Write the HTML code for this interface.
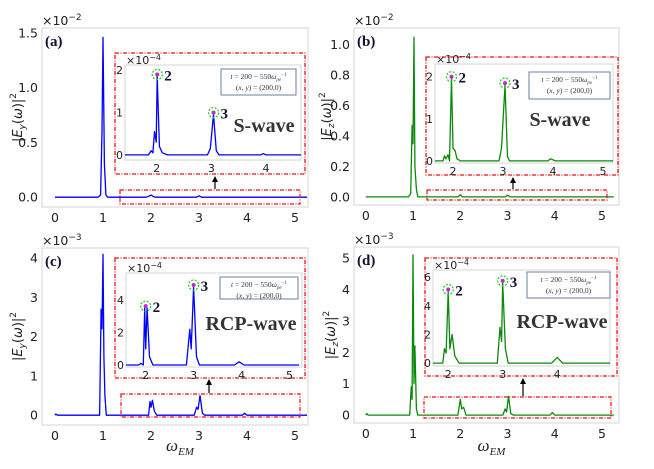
<!DOCTYPE html>
<html><head><meta charset="utf-8">
<style>
html,body{margin:0;padding:0;background:#fff;}
svg{display:block;}
text{font-family:"DejaVu Sans","Liberation Sans",sans-serif;}
.serif{font-family:"Liberation Serif","DejaVu Serif",serif;}
</style></head>
<body>
<svg id="fig" width="654" height="469" viewBox="0 0 654 469" xmlns="http://www.w3.org/2000/svg"></svg>
<script>
// ---- data ----
const mainAx = [0,0.9,0.95,0.98,1.0,1.03,1.06,1.1,1.9,1.95,2.0,2.05,2.1,2.95,3.0,3.05,5.25];
const mainAy = [0,0,0.02,0.6,1.46,0.3,0.02,0,0,0.008,0.02,0.005,0,0,0.012,0,0];
const insAx = [1.42,1.85,1.9,1.93,1.96,1.99,2.01,2.05,2.1,2.2,2.93,2.98,3.04,3.09,3.14,3.9,3.95,4.0,4.64];
const insAy = [0,0,0.1,0.05,0.55,0.3,1.85,0.2,0.05,0,0,0.15,0.95,0.1,0,0,0.03,0,0];

const mainBx = [0,0.9,0.95,0.98,1.0,1.02,1.04,1.07,1.1,1.95,2.0,2.05,2.95,3.0,3.05,5.25];
const mainBy = [0,0,0.02,0.47,0.35,1.05,0.2,0.05,0,0,0.015,0,0,0.012,0,0];
const insBx = [1.64,1.8,1.83,1.86,1.9,1.93,1.97,2.0,2.04,2.08,2.15,2.92,2.97,3.04,3.09,3.13,3.9,3.95,4.05,5.2];
const insBy = [0,0,0.12,0.05,0.15,0,1.95,0.3,0.25,0.05,0,0,0.3,1.8,0.1,0,0,0.05,0,0];

const mainCx = [0,0.02,0.05,0.93,0.96,0.98,1.0,1.02,1.04,1.07,1.95,1.98,2.0,2.03,2.07,2.12,2.9,2.95,2.98,3.02,3.07,3.12,3.9,3.95,4.0,5.25];
const mainCy = [0,0.03,0,0,2.7,2.2,4.1,1.5,0.5,0,0,0.35,0.2,0.38,0.1,0,0,0.2,0.15,0.5,0.05,0,0,0.05,0,0];
const insCx = [1.59,1.85,1.9,1.95,1.98,2.0,2.03,2.08,2.15,2.85,2.92,2.95,3.0,3.06,3.12,3.85,3.95,4.05,5.2];
const insCy = [0,0,0.1,0,3.5,1.0,3.5,0.5,0,0,2.2,1.0,4.8,0.5,0,0,0.2,0,0];

const mainDx = [0,0.02,0.05,0.93,0.96,0.98,1.0,1.02,1.04,1.07,1.1,1.95,2.0,2.03,2.07,2.12,2.9,2.95,2.98,3.02,3.07,3.12,3.9,3.95,4.0,5.25];
const mainDy = [0,0.05,0,0,0.9,0.5,5.1,1.0,2.2,0.2,0,0,0.5,0.2,0.25,0,0,0.2,0.1,0.6,0.05,0,0,0.08,0,0];
const insDx = [1.72,1.9,1.93,1.96,2.0,2.03,2.07,2.12,2.2,2.9,2.95,2.98,3.0,3.05,3.1,3.9,4.0,4.1,4.97];
const insDy = [0,0,1.0,0.7,5.0,1.0,2.0,0.5,0,0,2.5,1.5,5.6,1.0,0,0,0.4,0,0];

const mainXTicks = [0,1,2,3,4,5];
const ticksA = [0,0.5,1.0,1.5], ticksB=[0,0.2,0.4,0.6,0.8,1.0], ticksC=[0,1,2,3,4], ticksD=[0,1,2,3,4,5];
const insTicksA=[0,1,2], insTicksB=[0,1,2], insTicksC=[0,2,4], insTicksD=[0,2,4,6];
const insXA=[2,3,4], insXB=[2,3,4,5], insXC=[2,3,4,5], insXD=[2,3,4];
// peak markers: [x, y, label]
const peaksA=[[2.01,1.85,'2'],[3.04,0.95,'3']];
const peaksB=[[1.97,1.95,'2'],[3.04,1.8,'3']];
const peaksC=[[2.0,3.5,'2'],[3.0,4.8,'3']];
const peaksD=[[2.0,5.0,'2'],[3.0,5.6,'3']];

const NS='http://www.w3.org/2000/svg';
const svg=document.getElementById('fig');
function mk(tag,attrs,parent){const e=document.createElementNS(NS,tag);for(const k in attrs)e.setAttribute(k,attrs[k]);(parent||svg).appendChild(e);return e;}
function txt(s,attrs,parent){const e=mk('text',attrs,parent);e.textContent=s;return e;}

function axes(box,xd,yd){
  const sx=v=>box.x0+(v-xd[0])/(xd[1]-xd[0])*(box.x1-box.x0);
  const sy=v=>box.y1-(v-yd[0])/(yd[1]-yd[0])*(box.y1-box.y0);
  return {sx,sy};
}
function plotLine(g,xs,ys,sc,color){
  let d='';xs.forEach((x,i)=>{d+=(i?'L':'M')+sc.sx(x).toFixed(1)+','+sc.sy(ys[i]).toFixed(1);});
  const p=mk('path',{d:d,fill:'none',stroke:color,'stroke-width':1.3,'stroke-linejoin':'round'},g);
  
  
}

function panel(cfg){
  const g=mk('g',{});
  
  
  const b=cfg.box, sc=axes(b,cfg.xd,cfg.yd);
  const fr=mk('rect',{x:b.x0,y:b.y0,width:b.x1-b.x0,height:b.y1-b.y0,fill:'#fff',stroke:'#d6d6d6','stroke-width':1},g);
  
  const yl=txt('',{transform:`translate(${cfg.ylx},${(b.y0+b.y1)/2}) rotate(-90)`,'text-anchor':'middle','font-size':13,fill:'#222'},g);
  yl.innerHTML=`|<tspan font-style="italic">E</tspan><tspan font-size="9" dy="3" font-style="italic">${cfg.comp}</tspan><tspan dy="-3">(</tspan><tspan font-style="italic">ω</tspan>)|<tspan font-size="9" dy="-6">2</tspan>`;
  
  cfg.yt.forEach(v=>{const t=txt(v.toFixed(cfg.ydec),{x:b.x0-4,y:sc.sy(v)+4.5,'text-anchor':'end','font-size':12.5,fill:'#222'},g);
    });
  mainXTicks.forEach(v=>{const t=txt(String(v),{x:sc.sx(v),y:b.y1+15,'text-anchor':'middle','font-size':12.5,fill:'#222'},g);
    });
  const m=txt('',{x:b.x0,y:b.y0-3,'font-size':12.5,fill:'#222'},g);
  m.innerHTML=`×10<tspan font-size="9" dy="-5">−${cfg.exp}</tspan>`;
  
  if(cfg.xlabel){const xl=txt('',{x:(b.x0+b.x1)/2+5,y:451,'text-anchor':'middle','font-size':17,fill:'#222',class:'serif','font-style':'italic'},g);
    xl.innerHTML='ω<tspan font-size="11" dy="4">EM</tspan>';
    }
  plotLine(g,cfg.mx,cfg.my,sc,cfg.color);
  const pl=txt('('+cfg.id+')',{x:b.x0+3,y:b.y0+18,'font-size':15,'font-weight':'bold',fill:'#111133',class:'serif'},g);
  
  const zb=cfg.zoomBox;
  const r1=mk('rect',{x:zb[0],y:zb[1],width:zb[2]-zb[0],height:zb[3]-zb[1],fill:'none',stroke:'#ee1111','stroke-width':1.2,'stroke-dasharray':'4,1.5,1,1.5'},g);
  
  const ar=cfg.arrow;
  const al=mk('line',{x1:ar[0],y1:ar[1],x2:ar[0],y2:ar[2]+4,stroke:'#000','stroke-width':1.2},g);
  
  const ah=mk('path',{d:`M${ar[0]-3},${ar[2]+6}L${ar[0]},${ar[2]}L${ar[0]+3},${ar[2]+6}Z`,fill:'#000'},g);
  
  const ob=cfg.insOuter;
  const r2=mk('rect',{x:ob[0],y:ob[1],width:ob[2]-ob[0],height:ob[3]-ob[1],fill:'#fff',stroke:'#ee1111','stroke-width':1.3,'stroke-dasharray':'4,1.5,1,1.5'},g);
  
  const ib=cfg.ibox, is=axes(ib,cfg.ixd,cfg.iyd);
  const fr2=mk('rect',{x:ib.x0,y:ib.y0,width:ib.x1-ib.x0,height:ib.y1-ib.y0,fill:'#fff',stroke:'#d6d6d6','stroke-width':1},g);
  
  cfg.iyt.forEach(v=>{const t=txt(String(v),{x:ib.x0-2,y:is.sy(v)+4,'text-anchor':'end','font-size':11,fill:'#222'},g);
    });
  cfg.ixt.forEach(v=>{const t=txt(String(v),{x:is.sx(v),y:ib.y1+12,'text-anchor':'middle','font-size':11,fill:'#222'},g);
    });
  const m2=txt('',{x:ib.x0+1,y:ib.y0-1,'font-size':11,fill:'#222'},g);
  m2.innerHTML='×10<tspan font-size="8" dy="-4">−4</tspan>';
  
  plotLine(g,cfg.ix,cfg.iy,is,cfg.color);
  cfg.peaks.forEach(p=>{
    const cx=is.sx(p[0]),cy=is.sy(p[1]);
    const c=mk('circle',{cx:cx,cy:cy-2,r:5,fill:'none',stroke:'#22cc22','stroke-width':1.3,'stroke-dasharray':'2,1.5'},g);
    
    const d=mk('circle',{cx:cx,cy:cy-2,r:2,fill:'#cc22cc'},g);
    
    const t=txt(p[2],{x:cx+7,y:cy+4,'font-size':15,'font-weight':'bold',fill:'#111133',class:'serif'},g);
    
  });
  const lb=cfg.legend;
  const lr=mk('rect',{x:lb[0],y:lb[1],width:lb[2]-lb[0],height:lb[3]-lb[1],fill:'#fff',stroke:'#6a7fa8','stroke-width':1},g);
  
  const lx=(lb[0]+lb[2])/2;
  const l1=txt('',{x:lx,y:lb[1]+10,'text-anchor':'middle','font-size':7.5,fill:'#333',class:'serif'},g);
  l1.innerHTML='<tspan font-style="italic">t</tspan> = 200 − 550<tspan font-style="italic">ω</tspan><tspan font-size="5" dy="2" font-style="italic">pe</tspan><tspan font-size="5" dy="-5">−1</tspan>';
  
  const l2=txt('',{x:lx,y:lb[1]+21,'text-anchor':'middle','font-size':7.5,fill:'#333',class:'serif'},g);
  l2.innerHTML='(<tspan font-style="italic">x</tspan>, <tspan font-style="italic">y</tspan>) = (200,0)';
  
  const wt=txt(cfg.wave,{x:cfg.wavePos[0],y:cfg.wavePos[1],'text-anchor':'middle','font-size':20,'font-weight':'bold',fill:'#333',class:'serif'},g);
  
}

panel({id:'a',comp:'y',color:'#0000ff',box:{x0:42,x1:308,y0:28,y1:207},xd:[-0.27,5.27],yd:[-0.09,1.546],yt:ticksA,ydec:1,exp:2,ylx:22,
  mx:mainAx,my:mainAy,zoomBox:[120,190,300,204],arrow:[215,189,176],insOuter:[115,53,305,174],
  ibox:{x0:125,x1:301,y0:65,y1:160},ixd:[1.42,4.64],iyd:[-0.12,2.12],iyt:insTicksA,ixt:insXA,ix:insAx,iy:insAy,peaks:peaksA,
  legend:[221,69,296,95],wave:'S-wave',wavePos:[264,132]});
panel({id:'b',comp:'z',color:'#0a8a0a',box:{x0:354,x1:619,y0:28,y1:205},xd:[-0.25,5.36],yd:[-0.053,1.11],yt:ticksB,ydec:1,exp:2,ylx:331,
  mx:mainBx,my:mainBy,zoomBox:[427,190,607,200],arrow:[513,189,177],insOuter:[426,57,618,175],
  ibox:{x0:435,x1:613,y0:64,y1:163},ixd:[1.64,5.2],iyd:[-0.05,2.3],iyt:insTicksB,ixt:insXB,ix:insBx,iy:insBy,peaks:peaksB,
  legend:[529,72,610,99],wave:'S-wave',wavePos:[560,126]});
panel({id:'c',comp:'y',color:'#0000ff',box:{x0:42,x1:308,y0:248,y1:425},xd:[-0.27,5.27],yd:[-0.25,4.26],yt:ticksC,ydec:0,exp:3,ylx:22,xlabel:true,
  mx:mainCx,my:mainCy,zoomBox:[121,394,300,417],arrow:[209,393,379],insOuter:[115,258,305,378],
  ibox:{x0:126,x1:302,y0:273,y1:367},ixd:[1.59,5.26],iyd:[-0.12,5.66],iyt:insTicksC,ixt:insXC,ix:insCx,iy:insCy,peaks:peaksC,
  legend:[220,277,298,299],wave:'RCP-wave',wavePos:[251,330]});
panel({id:'d',comp:'z',color:'#0a8a0a',box:{x0:354,x1:619,y0:247,y1:423},xd:[-0.25,5.36],yd:[-0.25,5.35],yt:ticksD,ydec:0,exp:3,ylx:335,xlabel:true,
  mx:mainDx,my:mainDy,zoomBox:[424,397,611,418],arrow:[523,396,378],insOuter:[425,258,617,376],
  ibox:{x0:433,x1:610,y0:270,y1:366},ixd:[1.72,4.97],iyd:[-0.2,6.5],iyt:insTicksD,ixt:insXD,ix:insDx,iy:insDy,peaks:peaksD,
  legend:[527,272,610,298],wave:'RCP-wave',wavePos:[562,328]});
</script>
</body></html>
